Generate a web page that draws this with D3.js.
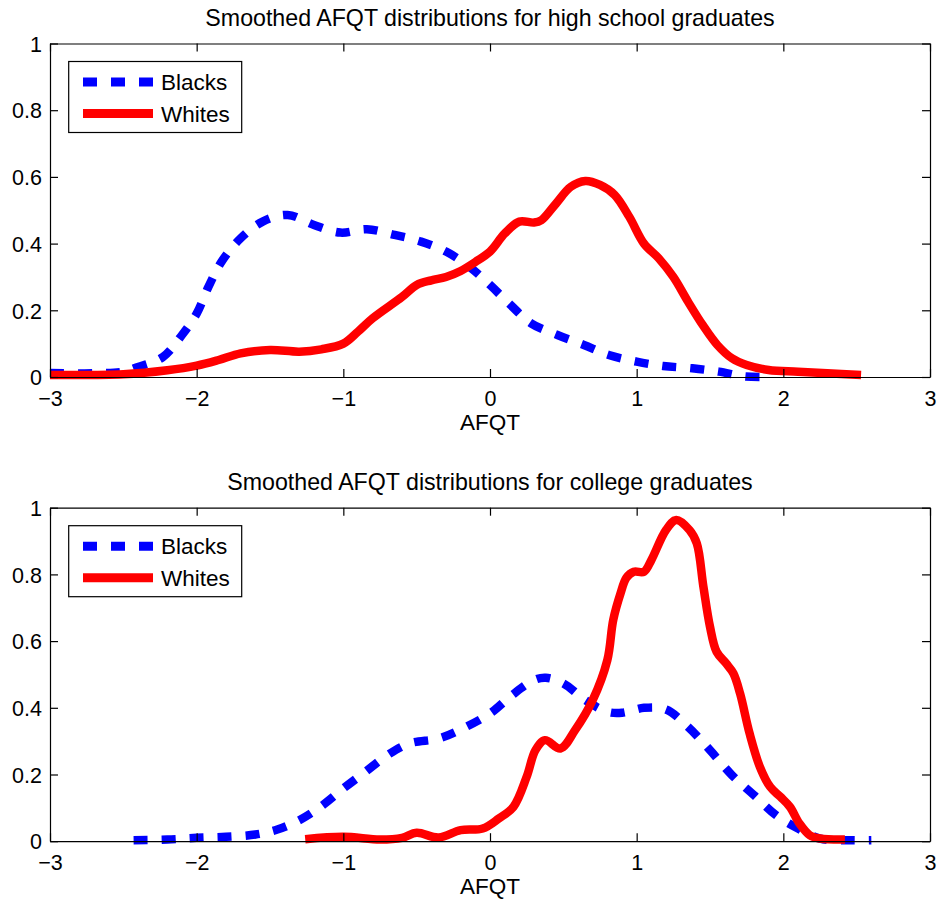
<!DOCTYPE html>
<html>
<head>
<meta charset="utf-8">
<script src="https://cdn.jsdelivr.net/npm/d3@7"></script>
<style>
  body { margin: 0; background: #fff; }
  text { font-family: Arial, "Liberation Sans", Helvetica, sans-serif; fill: #000; }
</style>
</head>
<body>
<div id="chart-area"></div>
<script>
// values (AFQT, density)
const xTicks = [-3, -2, -1, 0, 1, 2, 3];
const xTickLabels = ["\u22123", "\u22122", "\u22121", "0", "1", "2", "3"];
const yTicks = [0, 0.2, 0.4, 0.6, 0.8, 1];
const yTickLabels = ["0", "0.2", "0.4", "0.6", "0.8", "1"];
const seriesNames = ["Blacks", "Whites"];
const titles = [
  "Smoothed AFQT distributions for high school graduates",
  "Smoothed AFQT distributions for college graduates"
];

const hsBlacks = [[-3.0,0.012],[-2.7,0.011],[-2.5,0.016],[-2.4,0.03],[-2.23,0.06],[-2.1,0.126],[-2.0,0.19],
  [-1.92,0.27],[-1.83,0.346],[-1.7,0.416],[-1.55,0.466],[-1.38,0.486],[-1.2,0.456],[-1.02,0.433],
  [-0.84,0.443],[-0.65,0.426],[-0.47,0.406],[-0.3,0.376],[-0.14,0.33],[0.0,0.276],[0.14,0.216],
  [0.28,0.161],[0.46,0.126],[0.64,0.096],[0.81,0.066],[1.0,0.046],[1.18,0.033],[1.38,0.026],
  [1.56,0.016],[1.73,0.002],[1.85,0]];

const hsWhites = [[-3.0,0.006],[-2.5,0.008],[-2.2,0.02],[-2.0,0.034],[-1.85,0.051],[-1.7,0.071],
  [-1.5,0.081],[-1.3,0.076],[-1.15,0.083],[-1.0,0.10],[-0.9,0.136],[-0.8,0.176],[-0.6,0.24],
  [-0.5,0.276],[-0.4,0.29],[-0.3,0.30],[-0.2,0.318],[-0.1,0.345],[0.0,0.376],[0.1,0.43],[0.2,0.466],
  [0.3,0.463],[0.35,0.47],[0.45,0.52],[0.55,0.57],[0.65,0.588],[0.75,0.576],[0.85,0.546],[0.95,0.48],
  [1.05,0.40],[1.15,0.356],[1.25,0.30],[1.35,0.226],[1.45,0.156],[1.55,0.096],[1.65,0.056],
  [1.75,0.036],[1.9,0.021],[2.1,0.016],[2.3,0.011],[2.53,0.006]];

const colBlacks = [[-2.43,0.003],[-2.2,0.005],[-2.0,0.01],[-1.8,0.013],[-1.6,0.02],[-1.45,0.035],
  [-1.3,0.063],[-1.15,0.105],[-1.0,0.158],[-0.85,0.208],[-0.7,0.258],[-0.55,0.293],[-0.35,0.308],
  [-0.2,0.335],[0.0,0.383],[0.15,0.438],[0.3,0.483],[0.38,0.49],[0.5,0.473],[0.65,0.423],[0.8,0.388],
  [0.9,0.385],[1.05,0.40],[1.2,0.395],[1.35,0.343],[1.5,0.273],[1.65,0.198],[1.8,0.138],[1.95,0.078],
  [2.1,0.038],[2.25,0.008],[2.45,0.003],[2.6,0.003]];

const colWhites = [[-1.26,0.006],[-1.0,0.013],[-0.75,0.005],[-0.6,0.01],[-0.5,0.025],[-0.35,0.011],
  [-0.2,0.033],[-0.05,0.038],[0.06,0.068],[0.16,0.103],[0.25,0.193],[0.31,0.273],[0.375,0.303],
  [0.48,0.278],[0.58,0.333],[0.7,0.423],[0.8,0.543],[0.84,0.663],[0.89,0.743],[0.93,0.79],[0.98,0.808],
  [1.05,0.808],[1.1,0.843],[1.2,0.933],[1.27,0.963],[1.36,0.933],[1.41,0.893],[1.455,0.763],[1.5,0.643],
  [1.545,0.568],[1.61,0.533],[1.66,0.503],[1.705,0.443],[1.77,0.323],[1.84,0.223],[1.91,0.163],
  [1.98,0.133],[2.045,0.103],[2.11,0.053],[2.18,0.018],[2.25,0.008],[2.42,0.005]];

const W = 939, H = 903;
const left = 50, right = 930;
const panelH = 333.5;
const panelTops = [43.5, 507.7];

const svg = d3.select("#chart-area").append("svg")
    .attr("width", W)
    .attr("height", H);

svg.append("rect").attr("width", W).attr("height", H).attr("fill", "#fff");

const x = d3.scaleLinear().domain([-3, 3]).range([0, right - left]);
const y = d3.scaleLinear().domain([0, 1]).range([panelH, 0]);

const line = d3.line()
    .x((d) => x(d[0]))
    .y((d) => y(d[1]))
    .curve(d3.curveCatmullRom.alpha(0.5));

const styles = [
  {color: "#0000ff", dash: "14,14"},
  {color: "#ff0000", dash: null}
];

function drawPanel(top, title, blacks, whites) {
  const g = svg.append("g").attr("transform", "translate(" + left + "," + top + ")");

  // curves
  [blacks, whites].forEach((data, i) => {
    g.append("path")
      .datum(data)
      .attr("d", line)
      .attr("fill", "none")
      .attr("stroke", styles[i].color)
      .attr("stroke-width", 8.5)
      .attr("stroke-dasharray", styles[i].dash)
      .attr("stroke-linejoin", "round");
  });

  // axes, ticks pointing in
  const xb = g.append("g").attr("transform", "translate(0," + panelH + ")")
    .call(d3.axisBottom(x).tickValues(xTicks).tickSizeInner(-8).tickSizeOuter(0).tickPadding(14)
      .tickFormat((d, i) => xTickLabels[i]));
  const xt = g.append("g")
    .call(d3.axisTop(x).tickValues(xTicks).tickSizeInner(-8).tickSizeOuter(0).tickFormat(""));
  const yl = g.append("g")
    .call(d3.axisLeft(y).tickValues(yTicks).tickSizeInner(-8).tickSizeOuter(0).tickPadding(8)
      .tickFormat((d, i) => yTickLabels[i]));
  const yr = g.append("g").attr("transform", "translate(" + (right - left) + ",0)")
    .call(d3.axisRight(y).tickValues(yTicks).tickSizeInner(-8).tickSizeOuter(0).tickFormat(""));

  [xb, xt, yl, yr].forEach((a) => {
    a.attr("font-family", null).attr("font-size", null);
    a.selectAll("path, line").attr("stroke", "#000").attr("stroke-width", 1.2);
    a.selectAll("text").style("font-size", "21.5px").attr("fill", "#000");
  });
  yl.selectAll("text").attr("dy", "0.36em");

  g.append("text")
    .attr("x", (right - left) / 2)
    .attr("y", -18)
    .attr("text-anchor", "middle")
    .style("font-size", "23.2px")
    .text(title);

  g.append("text")
    .attr("x", (right - left) / 2)
    .attr("y", panelH + 53)
    .attr("text-anchor", "middle")
    .style("font-size", "22.5px")
    .text("AFQT");

  // legend
  const lg = g.append("g").attr("transform", "translate(18.7,18)");
  lg.append("rect")
    .attr("width", 173)
    .attr("height", 71)
    .attr("fill", "#fff")
    .attr("stroke", "#000")
    .attr("stroke-width", 1.2);

  seriesNames.forEach((name, i) => {
    const ly = 20.5 + i * 31.5;
    lg.append("line")
      .attr("x1", 14.3).attr("x2", 84.3)
      .attr("y1", ly).attr("y2", ly)
      .attr("stroke", styles[i].color)
      .attr("stroke-width", 9)
      .attr("stroke-dasharray", styles[i].dash);
    lg.append("text")
      .attr("x", 92.3)
      .attr("y", ly)
      .attr("dy", "0.36em")
      .style("font-size", "22.5px")
      .text(name);
  });
}

drawPanel(panelTops[0], titles[0], hsBlacks, hsWhites);
drawPanel(panelTops[1], titles[1], colBlacks, colWhites);
</script>
</body>
</html>
